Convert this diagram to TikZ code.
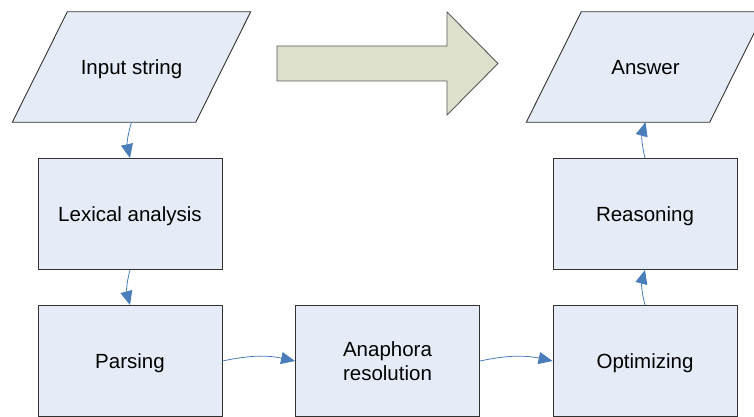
\documentclass[tikz,border=0pt]{standalone}
\usepackage{fontspec}
\setmainfont{Liberation Sans}
\usepackage{tikz}
\usetikzlibrary{arrows.meta,backgrounds}
\definecolor{boxfill}{RGB}{230,236,247}
\definecolor{boxline}{RGB}{50,50,50}
\definecolor{flowblue}{RGB}{74,126,187}
\definecolor{bigfill}{RGB}{221,224,204}
\definecolor{bigline}{RGB}{90,90,90}
\tikzstyle{fc_box} = [rectangle, draw=boxline, fill=boxfill, line width=0.9pt, align=center, inner sep=0pt, text depth=0pt, minimum width=184pt, minimum height=111pt]
\tikzstyle{fc_io} = [rectangle, align=center, inner sep=0pt, text depth=0pt, minimum width=183pt, minimum height=110pt]
\tikzstyle{fc_par} = [draw=boxline, fill=boxfill, line width=0.9pt, line join=miter]
\tikzstyle{fc_arr} = [draw=flowblue, line width=0.8pt, -{Triangle[length=14pt,width=12pt]}]

\begin{document}
\begin{tikzpicture}[x=1pt,y=-1pt,font=\fontsize{20.5}{24}\selectfont]
\useasboundingbox (0,0) rectangle (754,417);
\node [fc_io] (input) at (131.5,67) {Input string};
\node [fc_box] (lex) at (130,214) {Lexical analysis};
\node [fc_box] (parse) at (130,361) {Parsing};
\node [fc_box] (anaph) at (387.5,361) {Anaphora\\resolution};
\node [fc_box] (optim) at (645,361) {Optimizing};
\node [fc_box] (reason) at (645,214) {Reasoning};
\node [fc_io] (answer) at (645.5,67) {Answer};
% parallelograms behind the two io nodes
\begin{scope}[on background layer]
\filldraw [fc_par] ([xshift=-27.5pt]input.south west) -- ([xshift=-27.5pt]input.south east)
    -- ([xshift=27.5pt]input.north east) -- ([xshift=27.5pt]input.north west) -- cycle;
\filldraw [fc_par] ([xshift=-27.5pt]answer.south west) -- ([xshift=-27.5pt]answer.south east)
    -- ([xshift=27.5pt]answer.north east) -- ([xshift=27.5pt]answer.north west) -- cycle;
\end{scope}
% big arrow
\filldraw [fill=bigfill, draw=bigline, line width=0.9pt]
    (277,46) -- (447,46) -- (447,12) -- (498,63.5) -- (447,115) -- (447,81) -- (277,81) -- cycle;
% connectors
\draw [fc_arr] (input.south) to [bend right=15] (lex.north);
\draw [fc_arr] (lex.south) to [bend right=15] (parse.north);
\draw [fc_arr] (parse.east) to [bend left=12] (anaph.west);
\draw [fc_arr] (anaph.east) to [bend left=12] (optim.west);
\draw [fc_arr] (optim.north) to [bend left=15] (reason.south);
\draw [fc_arr] (reason.north) to [bend left=15] (answer.south);
\end{tikzpicture}
\end{document}
